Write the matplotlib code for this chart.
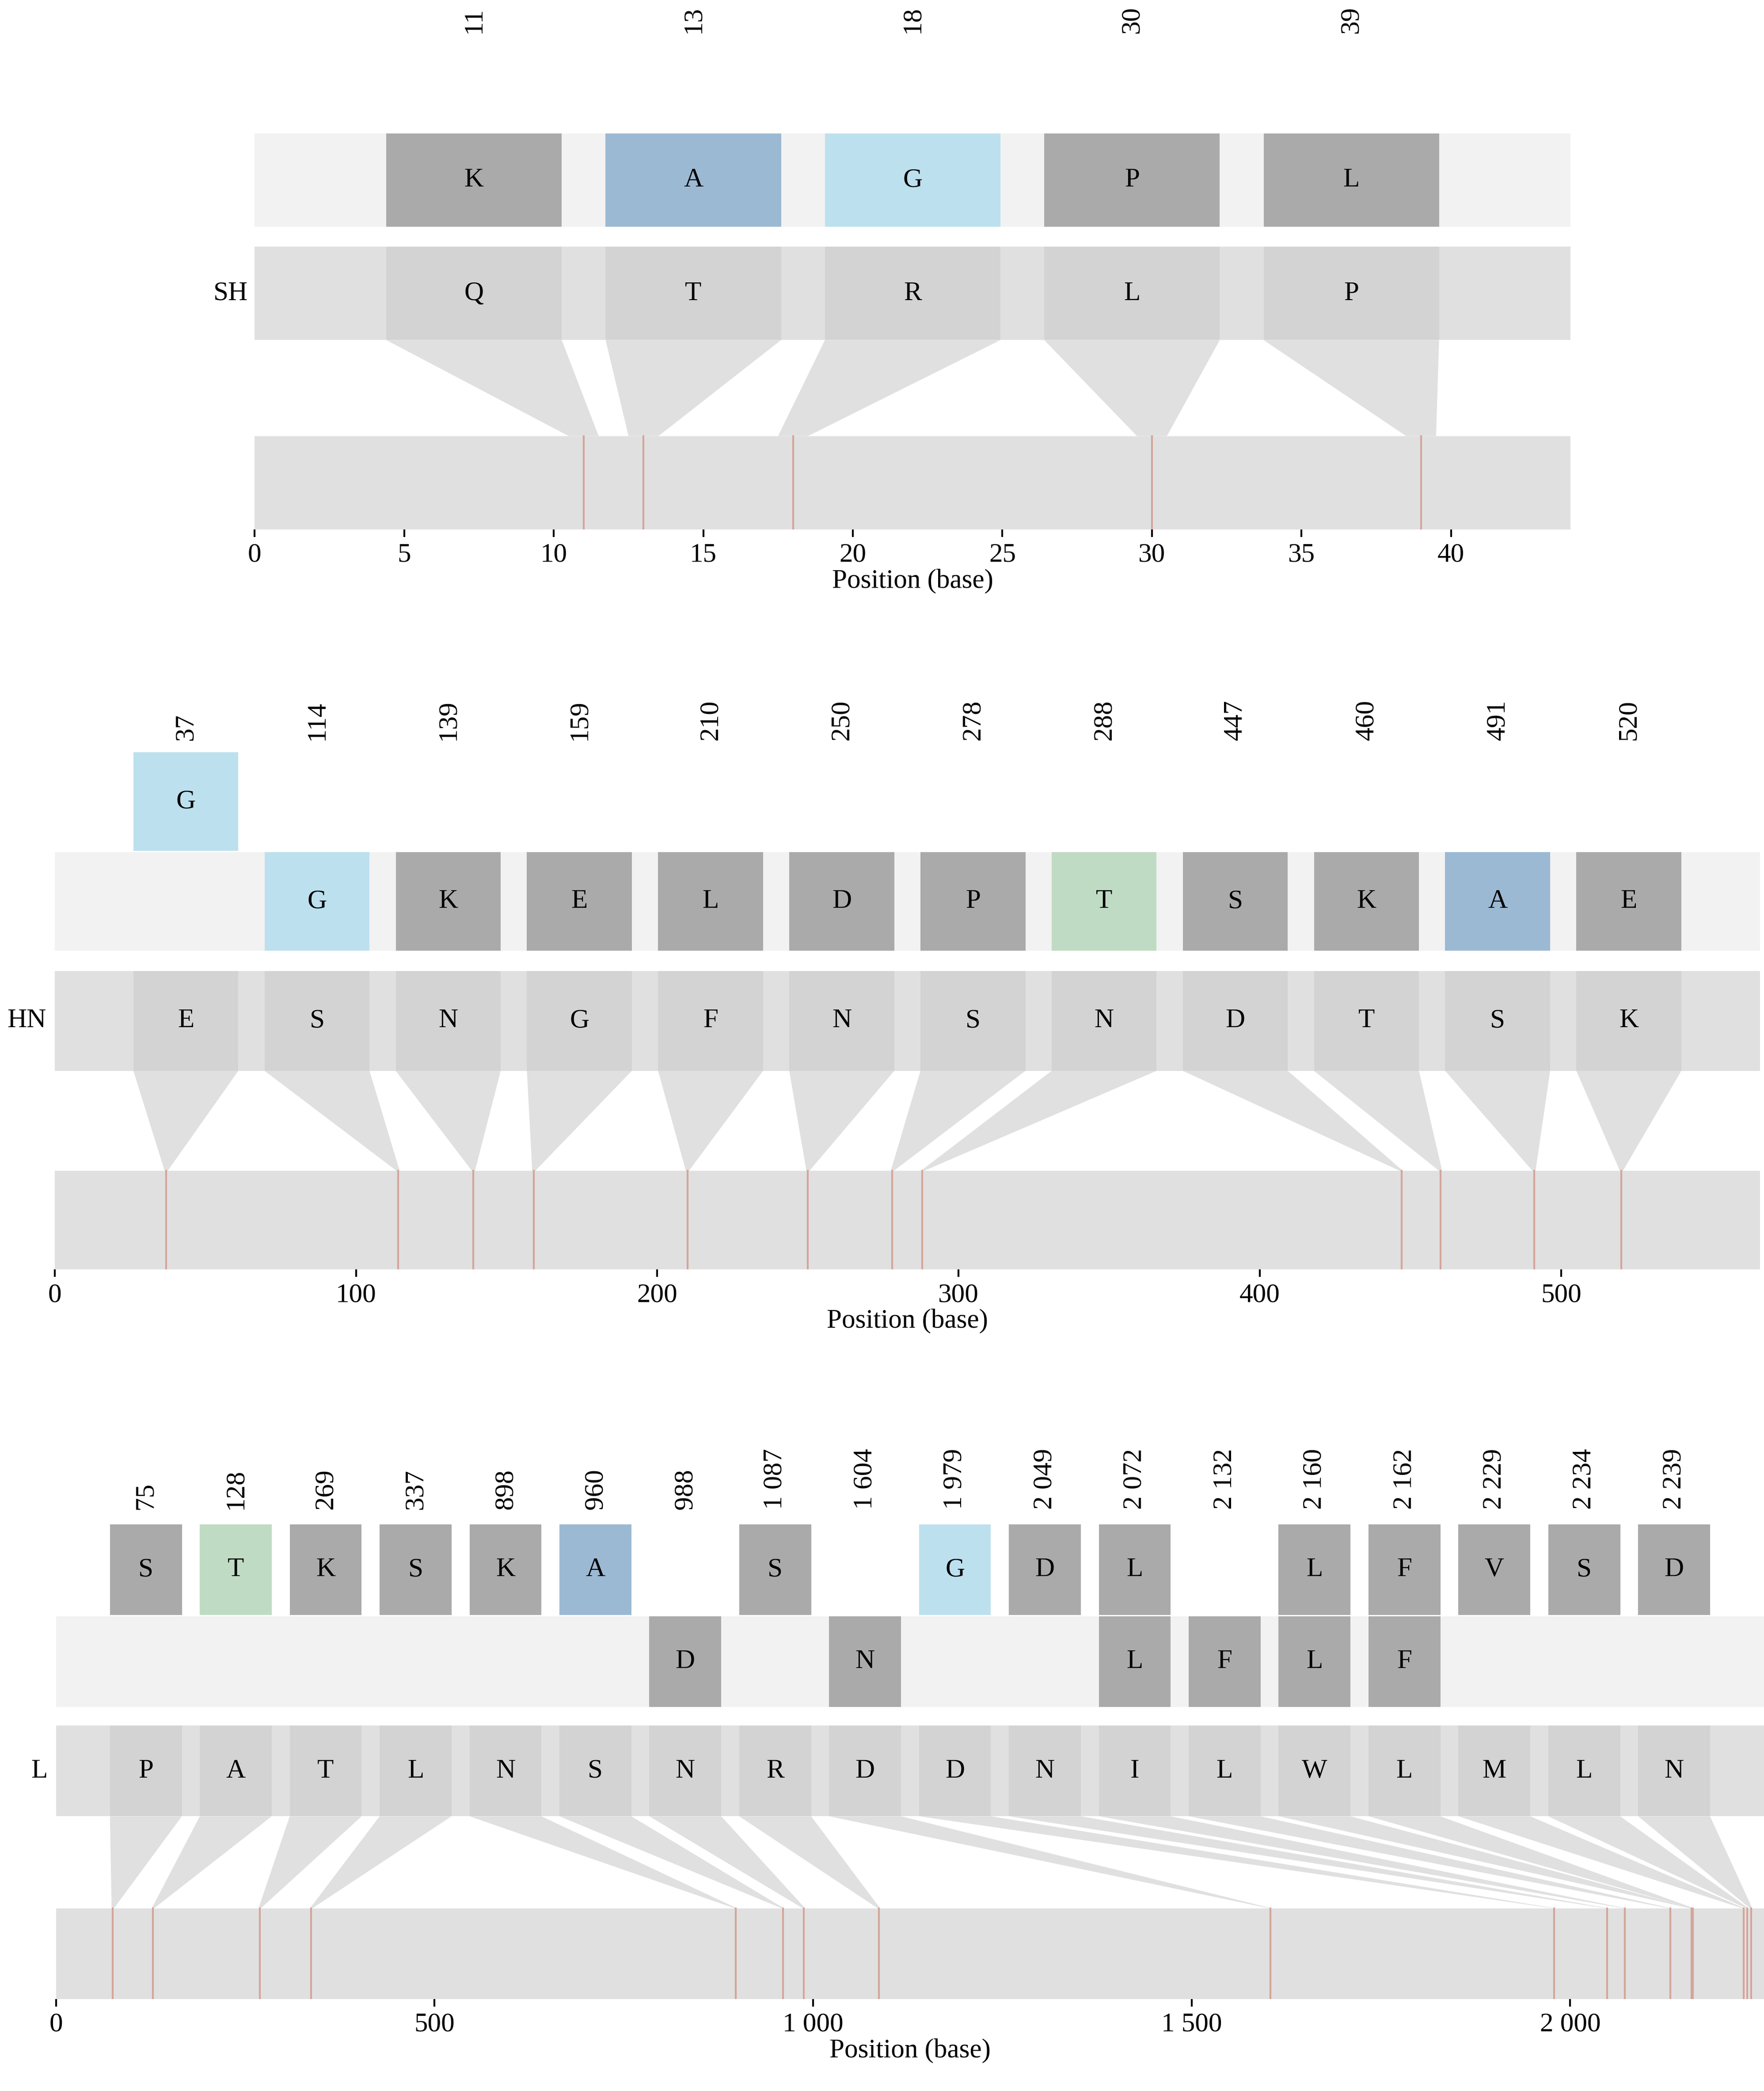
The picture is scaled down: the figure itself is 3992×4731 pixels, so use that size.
import matplotlib
matplotlib.use("Agg")
import matplotlib.pyplot as plt
from matplotlib.patches import Rectangle, Polygon
from matplotlib.ticker import FuncFormatter

plt.rcParams['font.family'] = ['Liberation Serif', 'DejaVu Serif']

# SH
sh_pos = [11, 13, 18, 30, 39]
sh_ref = ['Q', 'T', 'R', 'L', 'P']
sh_alt1 = ['K', 'A', 'G', 'P', 'L']
sh_alt2 = ['', '', '', '', '']
sh_len = 44
sh_ticks = [0, 5, 10, 15, 20, 25, 30, 35, 40]

# HN
hn_pos = [37, 114, 139, 159, 210, 250, 278, 288, 447, 460, 491, 520]
hn_ref = ['E', 'S', 'N', 'G', 'F', 'N', 'S', 'N', 'D', 'T', 'S', 'K']
hn_alt1 = ['', 'G', 'K', 'E', 'L', 'D', 'P', 'T', 'S', 'K', 'A', 'E']
hn_alt2 = ['G', '', '', '', '', '', '', '', '', '', '', '']
hn_len = 566
hn_ticks = [0, 100, 200, 300, 400, 500]

# L
l_pos = [75, 128, 269, 337, 898, 960, 988, 1087, 1604, 1979, 2049, 2072,
         2132, 2160, 2162, 2229, 2234, 2239]
l_ref = ['P', 'A', 'T', 'L', 'N', 'S', 'N', 'R', 'D', 'D', 'N', 'I', 'L',
         'W', 'L', 'M', 'L', 'N']
l_alt1 = ['', '', '', '', '', '', 'D', '', 'N', '', '', 'L', 'F', 'L', 'F',
          '', '', '']
l_alt2 = ['S', 'T', 'K', 'S', 'K', 'A', '', 'S', '', 'G', 'D', 'L', '', 'L',
          'F', 'V', 'S', 'D']
l_len = 2256
l_ticks = [0, 500, 1000, 1500, 2000]

W, H = 1323.0, 1568.0
FS = 44
colors = {'A': '#9cb9d3', 'G': '#bde0ee', 'T': '#c0dbc3'}


def fmt(v, _=None):
    return '{:,}'.format(int(v)).replace(',', ' ')


def draw_panel(fig, name, pos, ref, alt1, alt2, length, ticks, x0, x1,
               lab_y, a2, a1, rf, gb):
    ax = fig.add_axes([x0 / W, 1 - gb[1] / H, (x1 - x0) / W, (gb[1] - lab_y) / H])
    ax.set_xlim(0, length)
    ax.set_ylim(gb[1], lab_y)
    n = len(pos)
    sp = length / (n + 1)
    bw = 0.8 * sp
    ax.add_patch(Rectangle((0, a1[0]), length, a1[1] - a1[0], color='#f2f2f2', lw=0))
    ax.add_patch(Rectangle((0, rf[0]), length, rf[1] - rf[0], color='#e0e0e0', lw=0))
    ax.add_patch(Rectangle((0, gb[0]), length, gb[1] - gb[0], color='#e0e0e0', lw=0))
    for i, p in enumerate(pos):
        c = sp * (i + 1)
        l, r = c - bw / 2, c + bw / 2
        ax.text(c, lab_y, fmt(p), rotation=90, ha='center', va='bottom',
                fontsize=FS, clip_on=False)
        for aa, (y0, y1) in ((alt2[i], a2), (alt1[i], a1)):
            if aa:
                ax.add_patch(Rectangle((l, y0), bw, y1 - y0,
                                       color=colors.get(aa, '#aaaaaa'), lw=0))
                ax.text(c, (y0 + y1) / 2, aa, ha='center', va='center', fontsize=FS)
        ax.add_patch(Rectangle((l, rf[0]), bw, rf[1] - rf[0], color='#d3d3d3', lw=0))
        ax.text(c, (rf[0] + rf[1]) / 2, ref[i], ha='center', va='center', fontsize=FS)
        hw = max(0.5, length / 1500)
        ax.add_patch(Polygon([(l, rf[1]), (r, rf[1]), (p + hw, gb[0]), (p - hw, gb[0])],
                             closed=True, color='#e0e0e0', lw=0))
        ax.plot([p, p], [gb[0], gb[1]], color='#d4a59a', lw=3)
    ax.text(-length * 0.005, (rf[0] + rf[1]) / 2, name, ha='right', va='center',
            fontsize=FS, clip_on=False)
    for s in ['top', 'right', 'left']:
        ax.spines[s].set_visible(False)
    ax.spines['bottom'].set_visible(False)
    ax.set_yticks([])
    ax.set_xticks(ticks)
    ax.xaxis.set_major_formatter(FuncFormatter(fmt))
    ax.tick_params(axis='x', labelsize=FS, length=12, width=3, pad=10)
    ax.set_xlabel('Position (base)', fontsize=FS, labelpad=2)


fig = plt.figure(figsize=(39.92, 47.31), dpi=100)
draw_panel(fig, 'SH', sh_pos, sh_ref, sh_alt1, sh_alt2, sh_len, sh_ticks, 191, 1178,
           25, (30, 99), (100, 170), (185, 255), (327, 397))
draw_panel(fig, 'HN', hn_pos, hn_ref, hn_alt1, hn_alt2, hn_len, hn_ticks, 41, 1320,
           555, (564, 638), (639, 713), (728, 803), (878, 952))
draw_panel(fig, 'L', l_pos, l_ref, l_alt1, l_alt2, l_len, l_ticks, 42, 1323,
           1132, (1143, 1211), (1212, 1280), (1294, 1362), (1431, 1499))
fig.savefig('out.png', dpi=100)
